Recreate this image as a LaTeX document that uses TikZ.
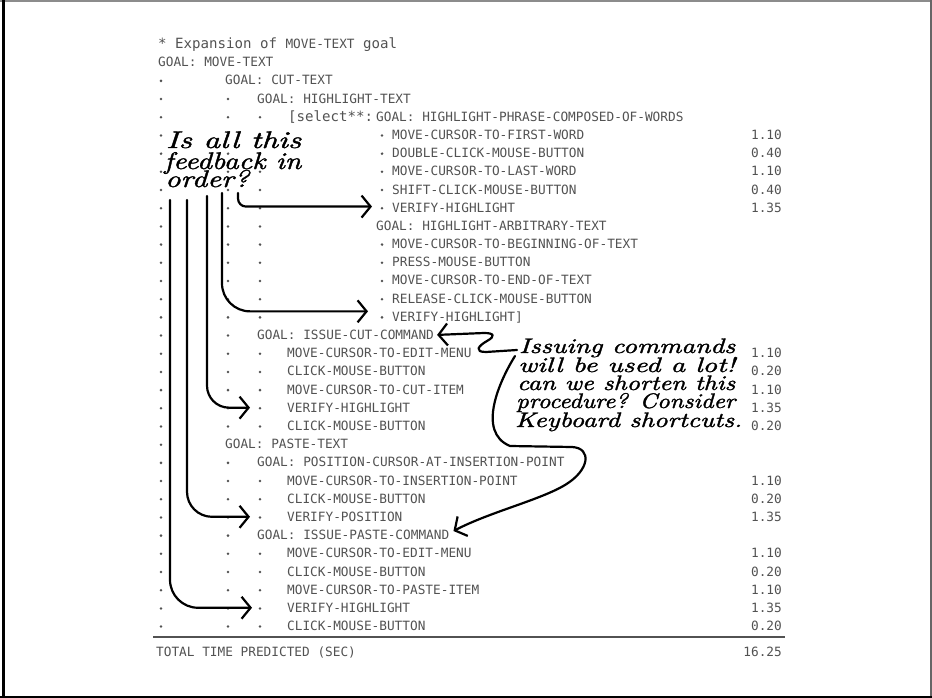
\documentclass[tikz,border=0pt]{standalone}
\usepackage{fontspec}
\usepackage{graphicx}
\newfontfamily\gomsfont{DejaVu Sans Mono}
\newfontfamily\scribfont[FakeBold=1.4]{lmroman10-italic.otf}
\usetikzlibrary{arrows.meta}

\definecolor{printgray}{gray}{0.32}

% handwriting: stretch a line to a given width, keep its height
\newcommand{\scribble}[2]{\resizebox{#1}{\height}{#2}}

\tikzset{
  goms/.style={anchor=base west, inner sep=0pt, text=printgray,
    font=\gomsfont\fontsize{12.76}{14}\selectfont},
  bigtype/.style={goms, font=\gomsfont\fontsize{14.1}{16}\selectfont},
  secs/.style={goms, anchor=base east},
  scrawl/.style={anchor=base west, inner sep=0pt,
    font=\scribfont\fontsize{24}{20}\selectfont},
  scrawlsmall/.style={scrawl, font=\scribfont\fontsize{21}{18}\selectfont},
  hand/.style={line width=2.2pt, line cap=round, line join=round,
    -{Straight Barb[length=9pt,width=22pt]}}
}

\begin{document}
\begin{tikzpicture}[x=1pt, y=-1pt]

% ----------------------------
% PARAMETERS (pixel grid, y downwards)
% ----------------------------
\def\yO{66.7}    % baseline of first GOAL row
\def\dy{18.19}   % row pitch
\def\cA{161}     % dot column 1
\def\cB{228}     % dot column 2
\def\cC{260}     % dot column 3
\def\cD{382}     % bullet of deep operators
\def\xT{782}     % right edge of time column

\useasboundingbox (0,0) rectangle (932,698);

% frame
\draw[black!45, line width=1.5pt] (0,1) -- (932,1);
\draw[black!60, line width=2pt] (931,0) -- (931,698);
\draw[line width=3pt] (3.5,0) -- (3.5,698);
\draw[line width=2.5pt] (0,696.8) -- (932,696.8);

% ----------------------------
% HEADER AND GOALS
% ----------------------------
\node[bigtype] (head) at (158,48.3)
  {* Expansion of {\fontsize{12.76}{14}\selectfont MOVE-TEXT} goal};
\node[goms] (gMove) at (158,\yO) {GOAL: MOVE-TEXT};
\node[goms] (gCut) at (225,{\yO+1*\dy}) {GOAL: CUT-TEXT};
\node[goms] (gHigh) at (257,{\yO+2*\dy}) {GOAL: HIGHLIGHT-TEXT};
\node[bigtype] (sel) at (288,{\yO+3*\dy}) {[select**:};
\node[goms] (gPhrase) at (376,{\yO+3*\dy}) {GOAL: HIGHLIGHT-PHRASE-COMPOSED-OF-WORDS};
\node[goms] (gArb) at (376,{\yO+9*\dy}) {GOAL: HIGHLIGHT-ARBITRARY-TEXT};
\node[goms] (gIssueCut) at (257,{\yO+15*\dy}) {GOAL: ISSUE-CUT-COMMAND};
\node[goms] (gPaste) at (225,{\yO+21*\dy}) {GOAL: PASTE-TEXT};
\node[goms] (gPos) at (257,{\yO+22*\dy}) {GOAL: POSITION-CURSOR-AT-INSERTION-POINT};
\node[goms] (gIssuePaste) at (257,{\yO+26*\dy}) {GOAL: ISSUE-PASTE-COMMAND};

% ----------------------------
% OPERATORS
% ----------------------------
\foreach \r/\op in {4/MOVE-CURSOR-TO-FIRST-WORD, 5/DOUBLE-CLICK-MOUSE-BUTTON,
    6/MOVE-CURSOR-TO-LAST-WORD, 7/SHIFT-CLICK-MOUSE-BUTTON, 8/VERIFY-HIGHLIGHT,
    10/MOVE-CURSOR-TO-BEGINNING-OF-TEXT, 11/PRESS-MOUSE-BUTTON,
    12/MOVE-CURSOR-TO-END-OF-TEXT, 13/RELEASE-CLICK-MOUSE-BUTTON,
    14/VERIFY-HIGHLIGHT]}{
  \node[goms] (op\r) at (392,{\yO+\r*\dy}) {\op};
  \fill[printgray] (\cD,{\yO+\r*\dy-4}) circle (1.4pt);
}

\foreach \r/\op in {16/MOVE-CURSOR-TO-EDIT-MENU, 17/CLICK-MOUSE-BUTTON,
    18/MOVE-CURSOR-TO-CUT-ITEM, 19/VERIFY-HIGHLIGHT, 20/CLICK-MOUSE-BUTTON,
    23/MOVE-CURSOR-TO-INSERTION-POINT, 24/CLICK-MOUSE-BUTTON, 25/VERIFY-POSITION,
    27/MOVE-CURSOR-TO-EDIT-MENU, 28/CLICK-MOUSE-BUTTON,
    29/MOVE-CURSOR-TO-PASTE-ITEM, 30/VERIFY-HIGHLIGHT, 31/CLICK-MOUSE-BUTTON}
  \node[goms] (op\r) at (287,{\yO+\r*\dy}) {\op};

% times
\foreach \r/\t in {4/1.10, 5/0.40, 6/1.10, 7/0.40, 8/1.35,
    16/1.10, 17/0.20, 18/1.10, 19/1.35, 20/0.20,
    23/1.10, 24/0.20, 25/1.35,
    27/1.10, 28/0.20, 29/1.10, 30/1.35, 31/0.20}
  \node[secs] (t\r) at (\xT,{\yO+\r*\dy}) {\t};

% ----------------------------
% LEVEL DOTS
% ----------------------------
\foreach \r in {1,...,31}
  \fill[printgray] (\cA,{\yO+\r*\dy-4}) circle (1.4pt);
\foreach \r in {2,...,20,22,23,...,31}
  \fill[printgray] (\cB,{\yO+\r*\dy-4}) circle (1.4pt);
\foreach \r in {3,...,14,16,17,...,20,23,24,25,27,28,...,31}
  \fill[printgray] (\cC,{\yO+\r*\dy-4}) circle (1.4pt);

% total
\draw[printgray, line width=1.8pt] (153,637) -- (785,637);
\node[goms] (total) at (156,656.7) {TOTAL TIME PREDICTED (SEC)};
\node[secs] (sum) at (\xT,656.7) {16.25};

% ----------------------------
% HANDWRITTEN NOTES
% ----------------------------
\node[scrawl] (fb1) at (166,148) {\scribble{135pt}{Is all this}};
\node[scrawl] (fb2) at (164,169) {\scribble{137pt}{feedback in}};
\node[scrawl] (fb3) at (165,187) {\scribble{84pt}{order?}};

\node[scrawlsmall] (cm1) at (519,353) {\scribble{216pt}{Issuing commands}};
\node[scrawlsmall] (cm2) at (518,372) {\scribble{217pt}{will be used a lot!}};
\node[scrawlsmall] (cm3) at (517,390) {\scribble{218pt}{can we shorten this}};
\node[scrawlsmall] (cm4) at (516,408) {\scribble{219pt}{procedure? Consider}};
\node[scrawlsmall] (cm5) at (515,427) {\scribble{227pt}{Keyboard shortcuts.}};

\coordinate (s1) at (238,193);
\coordinate (s2) at (222,193);
\coordinate (s3) at (207,196);
\coordinate (s4) at (187,200);
\coordinate (s5) at (170,200);
\coordinate (c1) at (517,350);
\coordinate (c2) at (515,356);

\draw[hand, rounded corners=8pt] (s1) |- ([xshift=-20pt,yshift=1pt]op8.west);
\draw[hand, rounded corners=28pt] (s2) |- ([xshift=-24pt,yshift=6pt]op14.west);
\draw[hand, rounded corners=22pt] (s3) |- ([xshift=-37pt]op19.west);
\draw[hand, rounded corners=25pt] (s4) |- ([xshift=-37pt]op25.west);
\draw[hand, rounded corners=28pt] (s5) |- ([xshift=-35pt]op30.west);

\draw[hand] (c1) -- (486,352) .. controls (474,352) and (478,346) .. (487,341)
  .. controls (496,336) and (494,333) .. (484,333) -- ([xshift=3pt]gIssueCut.east);
\draw[hand] (c2) .. controls (500,380) and (476,432) .. (510,446) -- (572,447)
  .. controls (592,448) and (590,470) .. (565,485)
  .. controls (540,500) and (490,512) .. ([xshift=4pt,yshift=4pt]gIssuePaste.east);

\end{tikzpicture}
\end{document}
